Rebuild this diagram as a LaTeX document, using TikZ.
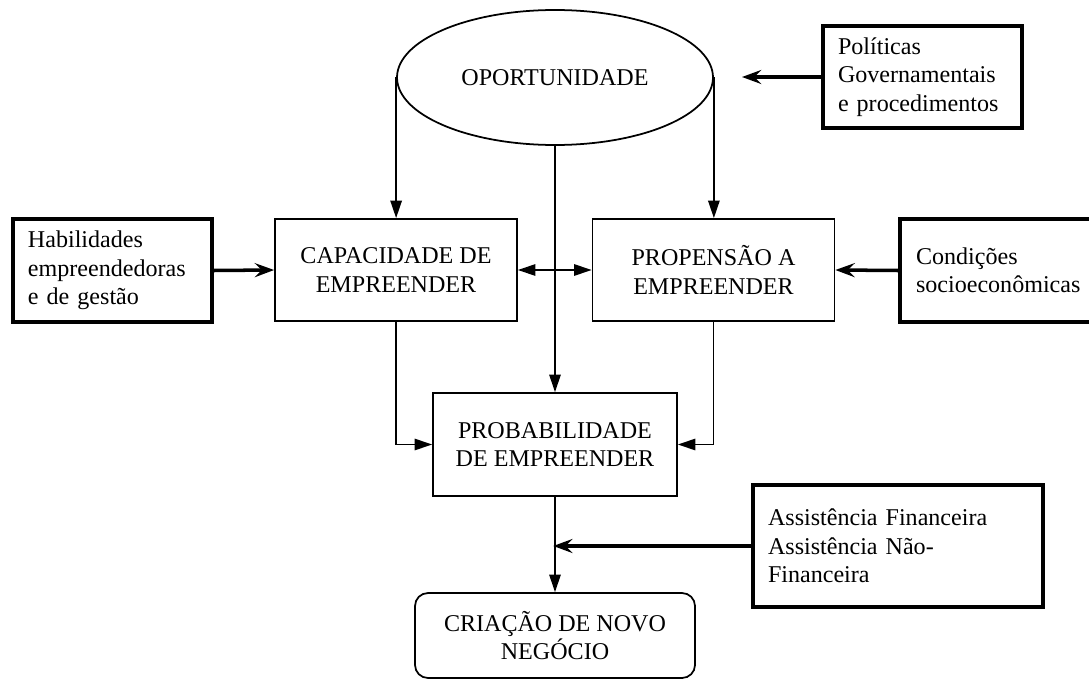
\documentclass[tikz,border=0pt]{standalone}
\usepackage{fontspec}
\setmainfont{Liberation Serif}
\usetikzlibrary{arrows.meta,shapes.geometric}
\tikzset{
  tri/.tip={Triangle[length=10pt,width=6.5pt]},
  stl/.tip={Stealth[length=11pt,width=8pt,inset=4pt]}
}
\begin{document}
\begin{tikzpicture}[x=0.02cm,y=-0.02cm,
  font=\fontsize{13.7}{16.2}\selectfont,
  thinbox/.style={draw, line width=1pt, align=center, inner sep=0pt},
  thickbox/.style={draw, line width=2.3pt, align=left, inner ysep=0pt, inner xsep=0.3cm},
  thinarrow/.style={line width=1pt, -tri},
  thickarrow/.style={line width=2pt, -stl}
]
\useasboundingbox (0,0) rectangle (1089,679);
\clip (0,0) rectangle (1089,679);

% central ellipse
\node[draw, line width=1pt, ellipse, inner sep=0pt,
      minimum width=316*0.02cm, minimum height=135*0.02cm] (opp) at (555,77.5) {OPORTUNIDADE};

% main boxes
\node[thinbox, minimum width=242*0.02cm, minimum height=102*0.02cm] (cap) at (396,270)
  {CAPACIDADE DE\\EMPREENDER};
\node[thinbox, minimum width=242*0.02cm, minimum height=102*0.02cm] (prop) at (713.5,270)
  {PROPENS\~AO A\\EMPREENDER};
\node[thinbox, minimum width=244*0.02cm, minimum height=103*0.02cm] (prob) at (555,444.5)
  {PROBABILIDADE\\DE EMPREENDER};
\node[thinbox, rounded corners=0.26cm, minimum width=280*0.02cm, minimum height=85*0.02cm] (cri) at (555,635.5)
  {CRIA\c{C}\~AO DE NOVO\\NEG\'OCIO};

% side boxes
\node[thickbox, text width=169*0.02cm, minimum height=103*0.02cm] (hab) at (112.5,270.5)
  {Habilidades\\empreendedoras\\e de gest\~ao};
\node[thickbox, text width=169*0.02cm, minimum height=102*0.02cm] (pol) at (922.5,77)
  {Pol\'iticas\\Governamentais\\e procedimentos};
\node[thickbox, text width=178*0.02cm, inner xsep=0.32cm, minimum height=103*0.02cm] (cond) at (1005,270.5)
  {Condi\c{c}\~oes\\socioecon\^omicas};
\node[thickbox, text width=260*0.02cm, minimum height=122*0.02cm] (asst) at (898,546)
  {Assist\^encia Financeira\\Assist\^encia N\~ao-\\Financeira};

\coordinate (polend) at (742,77);

% thin connectors
\draw[thinarrow] (opp.west) -- (opp.west |- cap.north);
\draw[thinarrow] (opp.east) -- (opp.east |- prop.north);
\draw[thinarrow] (opp.south) -- (prob.north);
\draw[line width=1pt, tri-tri] (cap.east) -- (prop.west);
\draw[thinarrow] (cap.south) |- (prob.west);
\draw[thinarrow] (prop.south) |- (prob.east);
\draw[thinarrow] (prob.south) -- (cri.north);

% thick connectors
\draw[thickarrow] (hab.east) -- (cap.west);
\draw[thickarrow] (cond.west) -- (prop.east);
\draw[thickarrow] (pol.west) -- (pol.west -| polend);
\draw[thickarrow, shorten >=-1pt] (asst.west) -- (asst.west -| prob.south);
\end{tikzpicture}
\end{document}
